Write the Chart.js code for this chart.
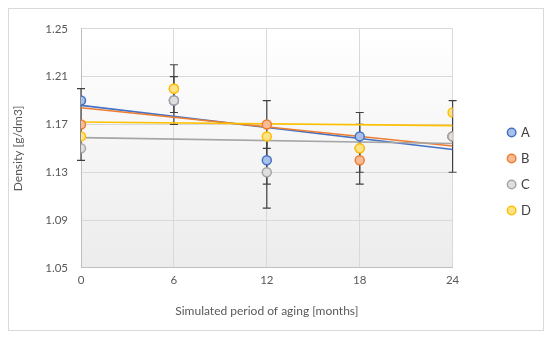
<!DOCTYPE html>
<html>
<head>
<meta charset="utf-8">
<script src="https://cdn.jsdelivr.net/npm/chart.js@4"></script>
<style>
  body { margin: 0; background: #fff; }
  #box { position: absolute; left: 8px; top: 8px; width: 534px; height: 321px; border: 1px solid #d9d9d9; }
</style>
</head>
<body>
<div id="box"><canvas id="chart" width="534" height="321"></canvas></div>
<script>
const months = [0, 6, 12, 18, 24];
const names = ["A", "B", "C", "D"];

const densA = [1.19, 1.19, 1.14, 1.16, 1.16];
const densB = [1.17, 1.20, 1.17, 1.14, 1.16];
const densC = [1.15, 1.19, 1.13, 1.15, 1.16];
const densD = [1.16, 1.20, 1.16, 1.15, 1.18];

// error bar half widths, 0 = none shown
const errA = [0, 0, 0.02, 0.02, 0];
const errB = [0.03, 0, 0.02, 0.02, 0];
const errC = [0, 0.02, 0.03, 0, 0.03];
const errD = [0, 0.02, 0, 0.02, 0];

// linear trend lines, read at 0 and 24 months
const trendX = [0, 24];
const trendA = [1.186, 1.149];
const trendB = [1.184, 1.152];
const trendC = [1.159, 1.154];
const trendD = [1.172, 1.169];

const yTicks = [1.05, 1.09, 1.13, 1.17, 1.21, 1.25];

const lineCol = ["#4472c4", "#ed7d31", "#a5a5a5", "#ffc000"];
const fillCol = ["#a9c1e8", "#f7bb96", "#dedede", "#ffe38a"];

const dens = [densA, densB, densC, densD];
const errs = [errA, errB, errC, errD];
const trends = [trendA, trendB, trendC, trendD];

function pts(xs, ys) {
    return xs.map((x, i) => ({ x: x, y: ys[i] }));
}

const datasets = [];
names.forEach((n, i) => {
    datasets.push({
        label: n,
        data: pts(months, dens[i]),
        showLine: false,
        pointRadius: 4.5,
        pointHoverRadius: 4.5,
        pointBorderWidth: 1.5,
        pointBackgroundColor: fillCol[i],
        pointBorderColor: lineCol[i],
        backgroundColor: fillCol[i],
        borderColor: lineCol[i],
        order: 4 - i
    });
});
names.forEach((n, i) => {
    datasets.push({
        label: "trend " + n,
        data: pts(trendX, trends[i]),
        showLine: true,
        pointRadius: 0,
        borderWidth: 1.6,
        borderColor: lineCol[i],
        order: 10 - i
    });
});

const plotBg = {
    id: "plotBg",
    beforeDraw(chart) {
        const { ctx, chartArea: a } = chart;
        const g = ctx.createLinearGradient(0, a.top, 0, a.bottom);
        g.addColorStop(0, "#ffffff");
        g.addColorStop(1, "#ececec");
        ctx.save();
        ctx.fillStyle = g;
        ctx.fillRect(a.left, a.top, a.right - a.left, a.bottom - a.top);
        ctx.restore();
    }
};

const errorBars = {
    id: "errorBars",
    beforeDatasetsDraw(chart) {
        const ctx = chart.ctx;
        const xs = chart.scales.x, ys = chart.scales.y;
        ctx.save();
        ctx.strokeStyle = "#404040";
        ctx.lineWidth = 1.2;
        errs.forEach((e, s) => {
            e.forEach((v, i) => {
                if (!v) return;
                const px = xs.getPixelForValue(months[i]);
                const top = ys.getPixelForValue(dens[s][i] + v);
                const bot = ys.getPixelForValue(dens[s][i] - v);
                ctx.beginPath();
                ctx.moveTo(px, top); ctx.lineTo(px, bot);
                ctx.moveTo(px - 4, top); ctx.lineTo(px + 4, top);
                ctx.moveTo(px - 4, bot); ctx.lineTo(px + 4, bot);
                ctx.stroke();
            });
        });
        ctx.restore();
    }
};

Chart.defaults.font.family = "Lato, 'Noto Sans', sans-serif";

new Chart(document.getElementById("chart"), {
    type: "scatter",
    data: { datasets: datasets },
    options: {
        responsive: false,
        animation: false,
        layout: { padding: { top: 16, right: 2, bottom: 12, left: 0 } },
        plugins: {
            tooltip: { enabled: false },
            legend: {
                position: "right",
                labels: {
                    filter: item => item.datasetIndex < 4,
                    sort: (a, b) => a.datasetIndex - b.datasetIndex,
                    usePointStyle: true,
                    pointStyle: "circle",
                    boxWidth: 6,
                    boxHeight: 6,
                    padding: 13,
                    color: "#404040",
                    font: { size: 13 }
                }
            }
        },
        scales: {
            x: {
                type: "linear",
                min: 0,
                max: 24,
                ticks: { stepSize: 6, color: "#595959", font: { size: 11.5 }, padding: 6 },
                grid: { color: "#d9d9d9", drawTicks: false },
                border: { color: "#bfbfbf" },
                title: { display: true, text: "Simulated period of aging [months]", color: "#595959", font: { size: 12 }, padding: { top: 10, bottom: 0 } }
            },
            y: {
                min: 1.05,
                max: 1.25,
                afterBuildTicks: axis => { axis.ticks = yTicks.map(v => ({ value: v })); },
                afterFit: axis => { axis.width = 72; },
                ticks: { color: "#595959", font: { size: 11.5 }, padding: 13, callback: v => v.toFixed(2) },
                grid: { color: "#d9d9d9", drawTicks: false },
                border: { color: "#bfbfbf" },
                title: { display: true, text: "Density [g/dm3]", color: "#595959", font: { size: 12 }, padding: 2 }
            },
            yR: {
                position: "right",
                display: true,
                min: 0,
                max: 1,
                afterFit: axis => { axis.width = 43; },
                ticks: { display: false },
                grid: { display: false },
                border: { display: false }
            }
        }
    },
    plugins: [plotBg, errorBars]
});
</script>
</body>
</html>
